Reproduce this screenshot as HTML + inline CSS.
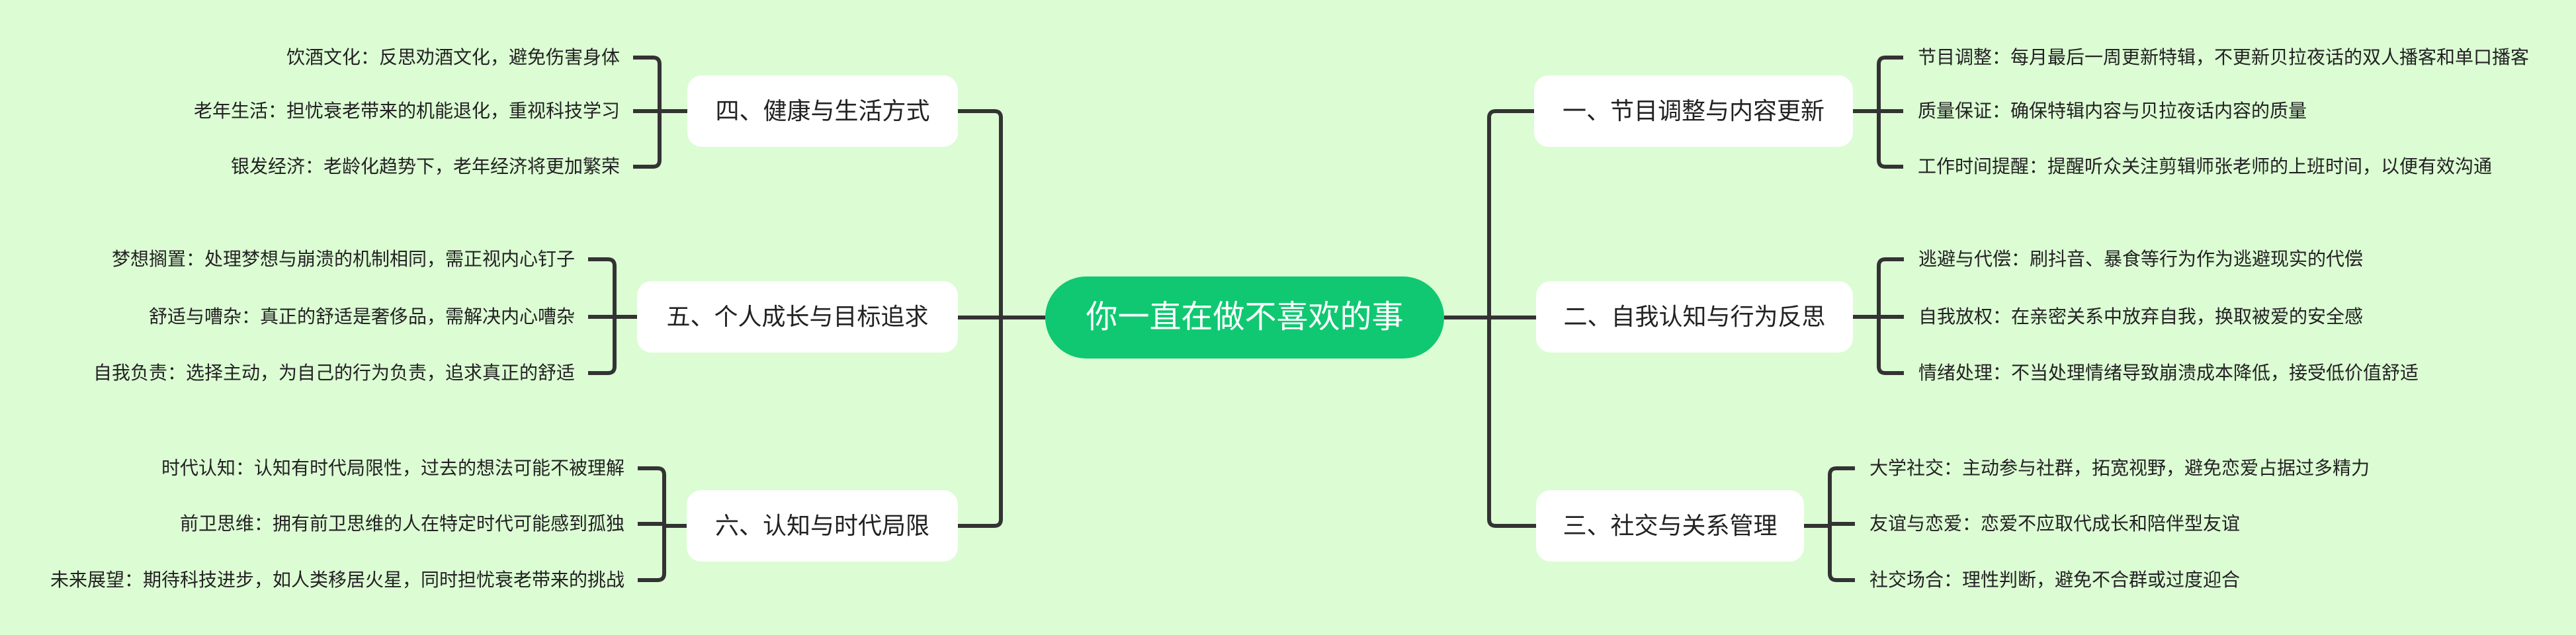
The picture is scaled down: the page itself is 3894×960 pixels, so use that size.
<!DOCTYPE html>
<html><head><meta charset="utf-8"><style>
html,body{margin:0;padding:0}
body{width:3894px;height:960px;background:#dcfcd4;position:relative;overflow:hidden;font-family:"Liberation Sans","Noto Sans CJK SC",sans-serif;color:#222}
svg{position:absolute;left:0;top:0}
.n{position:absolute;background:#fff;border-radius:22px;height:108px;line-height:108px;text-align:center;font-size:36px;color:#222;white-space:nowrap}
.l{position:absolute;font-size:28px;height:40px;line-height:40px;white-space:nowrap;color:#222}
.r{text-align:right}
.c{position:absolute;left:1580px;top:418px;width:603px;height:124px;border-radius:62px;background:#10c872;color:#fff;font-size:48px;line-height:124px;text-align:center;white-space:nowrap}
</style></head><body>
<svg width="3894" height="960" fill="none" stroke="#333" stroke-width="6">
<path d="M2183 480H2322M2319 168H2261Q2251 168 2251 178V785Q2251 795 2261 795H2322"/>
<path d="M1580 480H1448M1448 168H1503Q1513 168 1513 178V785Q1513 795 1503 795H1448"/>
<!-- right brackets -->
<path d="M2801 168H2840M2877 87H2850Q2840 87 2840 97V242Q2840 252 2850 252H2877M2840 168H2877"/>
<path d="M2801 479H2840M2878 392H2850Q2840 392 2840 402V554Q2840 564 2850 564H2878M2840 479H2878"/>
<path d="M2727 795H2766M2804 708H2776Q2766 708 2766 718V867Q2766 877 2776 877H2804M2766 792H2804"/>
<!-- left brackets -->
<path d="M1039 168H997M957 87H987Q997 87 997 97V242Q997 252 987 252H957M997 168H957"/>
<path d="M963 479H929M889 392H919Q929 392 929 402V554Q929 564 919 564H889M929 479H889"/>
<path d="M1038 795H1004M964 708H994Q1004 708 1004 718V867Q1004 877 994 877H964M1004 792H964"/>
</svg>
<div class="c">你一直在做不喜欢的事</div>

<div class="n" style="left:2319px;top:114px;width:482px">一、节目调整与内容更新</div>
<div class="n" style="left:2322px;top:425px;width:479px">二、自我认知与行为反思</div>
<div class="n" style="left:2322px;top:741px;width:405px">三、社交与关系管理</div>
<div class="n" style="left:1039px;top:114px;width:409px">四、健康与生活方式</div>
<div class="n" style="left:963px;top:425px;width:485px">五、个人成长与目标追求</div>
<div class="n" style="left:1038px;top:741px;width:410px">六、认知与时代局限</div>

<div class="l" style="left:2899px;top:67px">节目调整：每月最后一周更新特辑，不更新贝拉夜话的双人播客和单口播客</div>
<div class="l" style="left:2899px;top:148px">质量保证：确保特辑内容与贝拉夜话内容的质量</div>
<div class="l" style="left:2899px;top:232px">工作时间提醒：提醒听众关注剪辑师张老师的上班时间，以便有效沟通</div>

<div class="l" style="left:2900px;top:372px">逃避与代偿：刷抖音、暴食等行为作为逃避现实的代偿</div>
<div class="l" style="left:2900px;top:459px">自我放权：在亲密关系中放弃自我，换取被爱的安全感</div>
<div class="l" style="left:2900px;top:544px">情绪处理：不当处理情绪导致崩溃成本降低，接受低价值舒适</div>

<div class="l" style="left:2826px;top:688px">大学社交：主动参与社群，拓宽视野，避免恋爱占据过多精力</div>
<div class="l" style="left:2826px;top:772px">友谊与恋爱：恋爱不应取代成长和陪伴型友谊</div>
<div class="l" style="left:2826px;top:857px">社交场合：理性判断，避免不合群或过度迎合</div>

<div class="l r" style="right:2957px;top:67px">饮酒文化：反思劝酒文化，避免伤害身体</div>
<div class="l r" style="right:2957px;top:148px">老年生活：担忧衰老带来的机能退化，重视科技学习</div>
<div class="l r" style="right:2957px;top:232px">银发经济：老龄化趋势下，老年经济将更加繁荣</div>

<div class="l r" style="right:3025px;top:372px">梦想搁置：处理梦想与崩溃的机制相同，需正视内心钉子</div>
<div class="l r" style="right:3025px;top:459px">舒适与嘈杂：真正的舒适是奢侈品，需解决内心嘈杂</div>
<div class="l r" style="right:3025px;top:544px">自我负责：选择主动，为自己的行为负责，追求真正的舒适</div>

<div class="l r" style="right:2950px;top:688px">时代认知：认知有时代局限性，过去的想法可能不被理解</div>
<div class="l r" style="right:2950px;top:772px">前卫思维：拥有前卫思维的人在特定时代可能感到孤独</div>
<div class="l r" style="right:2950px;top:857px">未来展望：期待科技进步，如人类移居火星，同时担忧衰老带来的挑战</div>
</body></html>
